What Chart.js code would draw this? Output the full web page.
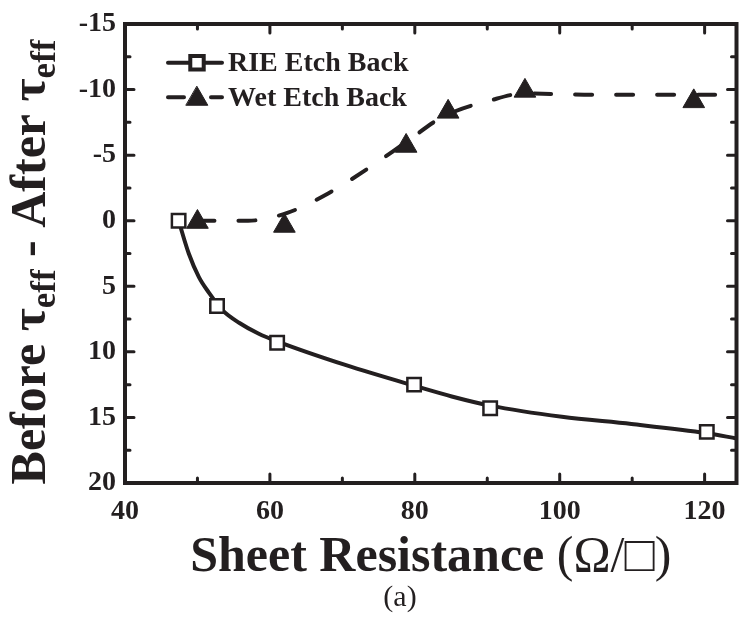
<!DOCTYPE html>
<html>
<head>
<meta charset="utf-8">
<title>Before - After tau_eff vs Sheet Resistance</title>
<script src="https://cdn.jsdelivr.net/npm/chart.js@4.4.1/dist/chart.umd.min.js"></script>
<style>
  html, body { margin: 0; padding: 0; background: #fff; }
  #wrap { position: relative; width: 750px; height: 623px; }
</style>
</head>
<body>
<div id="wrap"><canvas id="grafico" width="750" height="623"></canvas></div>
<script>
// ---------- Data ----------
var RIE_X = [47.4, 52.7, 61.0, 79.9, 90.4, 120.3];
var RIE_Y = [0.0, 6.5, 9.3, 12.5, 14.3, 16.1];
var WET_X = [50.0, 62.0, 78.8, 84.6, 95.2, 118.5];
var WET_Y = [0.1, 0.4, -5.7, -8.3, -9.9, -9.1];

// fitted curves (no markers)
var RIE_FIT_X = [47.4, 48.8, 50.2, 51.6, 53.4, 55.8, 58.4, 61.0, 70.4, 80.0, 85.1, 90.4, 100.3, 109.9, 120.3, 124.4];
var RIE_FIT_Y = [0.0, 2.5, 4.3, 5.5, 6.8, 7.8, 8.6, 9.2, 11.0, 12.6, 13.4, 14.1, 14.95, 15.5, 16.2, 16.6];
var WET_FIT_X = [50.0, 57.0, 62.4, 68.1, 73.6, 78.8, 83.8, 90.6, 95.1, 105.0, 124.4];
var WET_FIT_Y = [0.0, 0.0, -0.6, -2.1, -4.0, -6.0, -7.9, -9.2, -9.7, -9.6, -9.6];

var SERIES = ["RIE Etch Back", "Wet Etch Back"];
var X_TICKS = [40, 60, 80, 100, 120];
var X_MINOR = [50, 70, 90, 110];
var Y_TICKS = [-15, -10, -5, 0, 5, 10, 15, 20];
var Y_MINOR = [-12.5, -7.5, -2.5, 2.5, 7.5, 12.5, 17.5];
var X_MIN = 40, X_MAX = 124.4, Y_MIN = -15, Y_MAX = 20;

var PRETO = "#231f20";
var SERIF = "'Liberation Serif', 'Times New Roman', serif";

function pares(xs, ys) {
  return xs.map(function (x, i) { return { x: x, y: ys[i] }; });
}

// ---------- Frame, inward ticks, legend and axis titles ----------
var moldura = {
  id: "moldura",
  afterDraw: function (chart) {
    var ctx = chart.ctx, a = chart.chartArea;
    var sx = chart.scales.x, sy = chart.scales.y;
    ctx.save();
    ctx.strokeStyle = PRETO;
    ctx.fillStyle = PRETO;

    // ticks (major + minor) on all four sides, pointing in
    ctx.lineWidth = 3;
    ctx.lineCap = "round";
    function marcaX(v, len) {
      var px = sx.getPixelForValue(v);
      ctx.beginPath();
      ctx.moveTo(px, a.bottom); ctx.lineTo(px, a.bottom - len);
      ctx.moveTo(px, a.top); ctx.lineTo(px, a.top + len);
      ctx.stroke();
    }
    function marcaY(v, len) {
      var py = sy.getPixelForValue(v);
      ctx.beginPath();
      ctx.moveTo(a.left, py); ctx.lineTo(a.left + len, py);
      ctx.moveTo(a.right, py); ctx.lineTo(a.right - len, py);
      ctx.stroke();
    }
    X_TICKS.forEach(function (v) { marcaX(v, 9); });
    X_MINOR.forEach(function (v) { marcaX(v, 5); });
    Y_TICKS.forEach(function (v) { marcaY(v, 9); });
    Y_MINOR.forEach(function (v) { marcaY(v, 5); });

    ctx.lineWidth = 4;
    ctx.lineCap = "butt";
    ctx.strokeRect(a.left, a.top, a.right - a.left, a.bottom - a.top);

    // legend
    ctx.lineWidth = 4;
    ctx.lineCap = "round";
    ctx.beginPath(); ctx.moveTo(168, 62.7); ctx.lineTo(222, 62.7); ctx.stroke();
    ctx.fillStyle = "#fff";
    Chart.helpers.drawPoint(ctx, { pointStyle: "rect", radius: 9.5, rotation: 0, borderWidth: 2.5 }, 197, 62.7);
    ctx.beginPath();
    ctx.moveTo(168, 97.3); ctx.lineTo(184, 97.3);
    ctx.moveTo(211, 97.3); ctx.lineTo(222, 97.3);
    ctx.stroke();
    ctx.fillStyle = PRETO;
    ctx.lineWidth = 1;
    Chart.helpers.drawPoint(ctx, { pointStyle: "triangle", radius: 12.5, rotation: 0, borderWidth: 1 }, 197, 99);

    ctx.font = "bold 28px " + SERIF;
    ctx.textBaseline = "alphabetic";
    ctx.textAlign = "left";
    ctx.fillText(SERIES[0], 228, 70.6);
    ctx.fillText(SERIES[1], 228, 105.6);

    // x axis title: bold words, regular unit
    var fB = "bold 50px " + SERIF, fR = "50px " + SERIF;
    var t1 = "Sheet Resistance ", t2 = "(\u03A9/\u25A1)";
    ctx.font = fB; var w1 = ctx.measureText(t1).width;
    ctx.font = fR; var w2 = ctx.measureText(t2).width;
    var x0 = (a.left + a.right) / 2 - (w1 + w2) / 2;
    ctx.font = fB; ctx.fillText(t1, x0, 571);
    ctx.font = fR; ctx.fillText(t2, x0 + w1, 571);

    // caption
    ctx.font = "30px " + SERIF;
    ctx.textAlign = "center";
    ctx.fillText("(a)", 400, 606);

    // y axis title, rotated, with subscripts
    var partes = [
      ["Before \u03C4", "bold 50px " + SERIF, 0],
      ["eff", "bold 35px " + SERIF, 10],
      [" - After \u03C4", "bold 50px " + SERIF, 0],
      ["eff", "bold 35px " + SERIF, 10]
    ];
    ctx.textAlign = "left";
    var total = 0;
    partes.forEach(function (p) { ctx.font = p[1]; p.push(ctx.measureText(p[0]).width); total += p[3]; });
    ctx.translate(45, 262);
    ctx.rotate(-Math.PI / 2);
    var cx = -total / 2;
    partes.forEach(function (p) {
      ctx.font = p[1];
      ctx.fillText(p[0], cx, p[2]);
      cx += p[3];
    });
    ctx.restore();
  }
};

// ---------- Chart ----------
var tickFont = { family: SERIF, size: 28, weight: "bold" };

new Chart(document.getElementById("grafico"), {
  type: "scatter",
  data: {
    datasets: [
      { label: SERIES[0], data: pares(RIE_X, RIE_Y), showLine: false, order: 0,
        pointStyle: "rect", pointRadius: 9.5, pointBorderWidth: 2.5,
        pointBackgroundColor: "#fff", pointBorderColor: PRETO },
      { label: SERIES[1], data: pares(WET_X, WET_Y), showLine: false, order: 0,
        pointStyle: "triangle", pointRadius: 12.5, pointBorderWidth: 1,
        pointBackgroundColor: PRETO, pointBorderColor: PRETO },
      { label: SERIES[0] + " fit", data: pares(RIE_FIT_X, RIE_FIT_Y), showLine: true, order: 1,
        pointRadius: 0, borderColor: PRETO, borderWidth: 4,
        cubicInterpolationMode: "monotone", borderJoinStyle: "round" },
      { label: SERIES[1] + " fit", data: pares(WET_FIT_X, WET_FIT_Y), showLine: true, order: 1,
        pointRadius: 0, borderColor: PRETO, borderWidth: 4, borderDash: [17, 24],
        borderCapStyle: "round", cubicInterpolationMode: "monotone" }
    ]
  },
  options: {
    responsive: false,
    animation: false,
    devicePixelRatio: 1,
    layout: { padding: { top: 24, right: 5, left: 0, bottom: 0 } },
    plugins: { legend: { display: false }, tooltip: { enabled: false } },
    scales: {
      x: {
        type: "linear", min: X_MIN, max: X_MAX,
        grid: { display: false, drawTicks: false }, border: { display: false },
        afterBuildTicks: function (s) { s.ticks = X_TICKS.map(function (v) { return { value: v }; }); },
        afterFit: function (s) { s.height = 140; s.paddingLeft = 0; s.paddingRight = 0; },
        ticks: { color: PRETO, font: tickFont, padding: 12, maxRotation: 0, autoSkip: false }
      },
      y: {
        type: "linear", reverse: true, min: Y_MIN, max: Y_MAX,
        grid: { display: false, drawTicks: false }, border: { display: false },
        afterBuildTicks: function (s) { s.ticks = Y_TICKS.map(function (v) { return { value: v }; }); },
        afterFit: function (s) { s.width = 125; s.paddingTop = 0; s.paddingBottom = 0; },
        ticks: { color: PRETO, font: tickFont, padding: 9, autoSkip: false }
      }
    }
  },
  plugins: [moldura]
});
</script>
</body>
</html>
